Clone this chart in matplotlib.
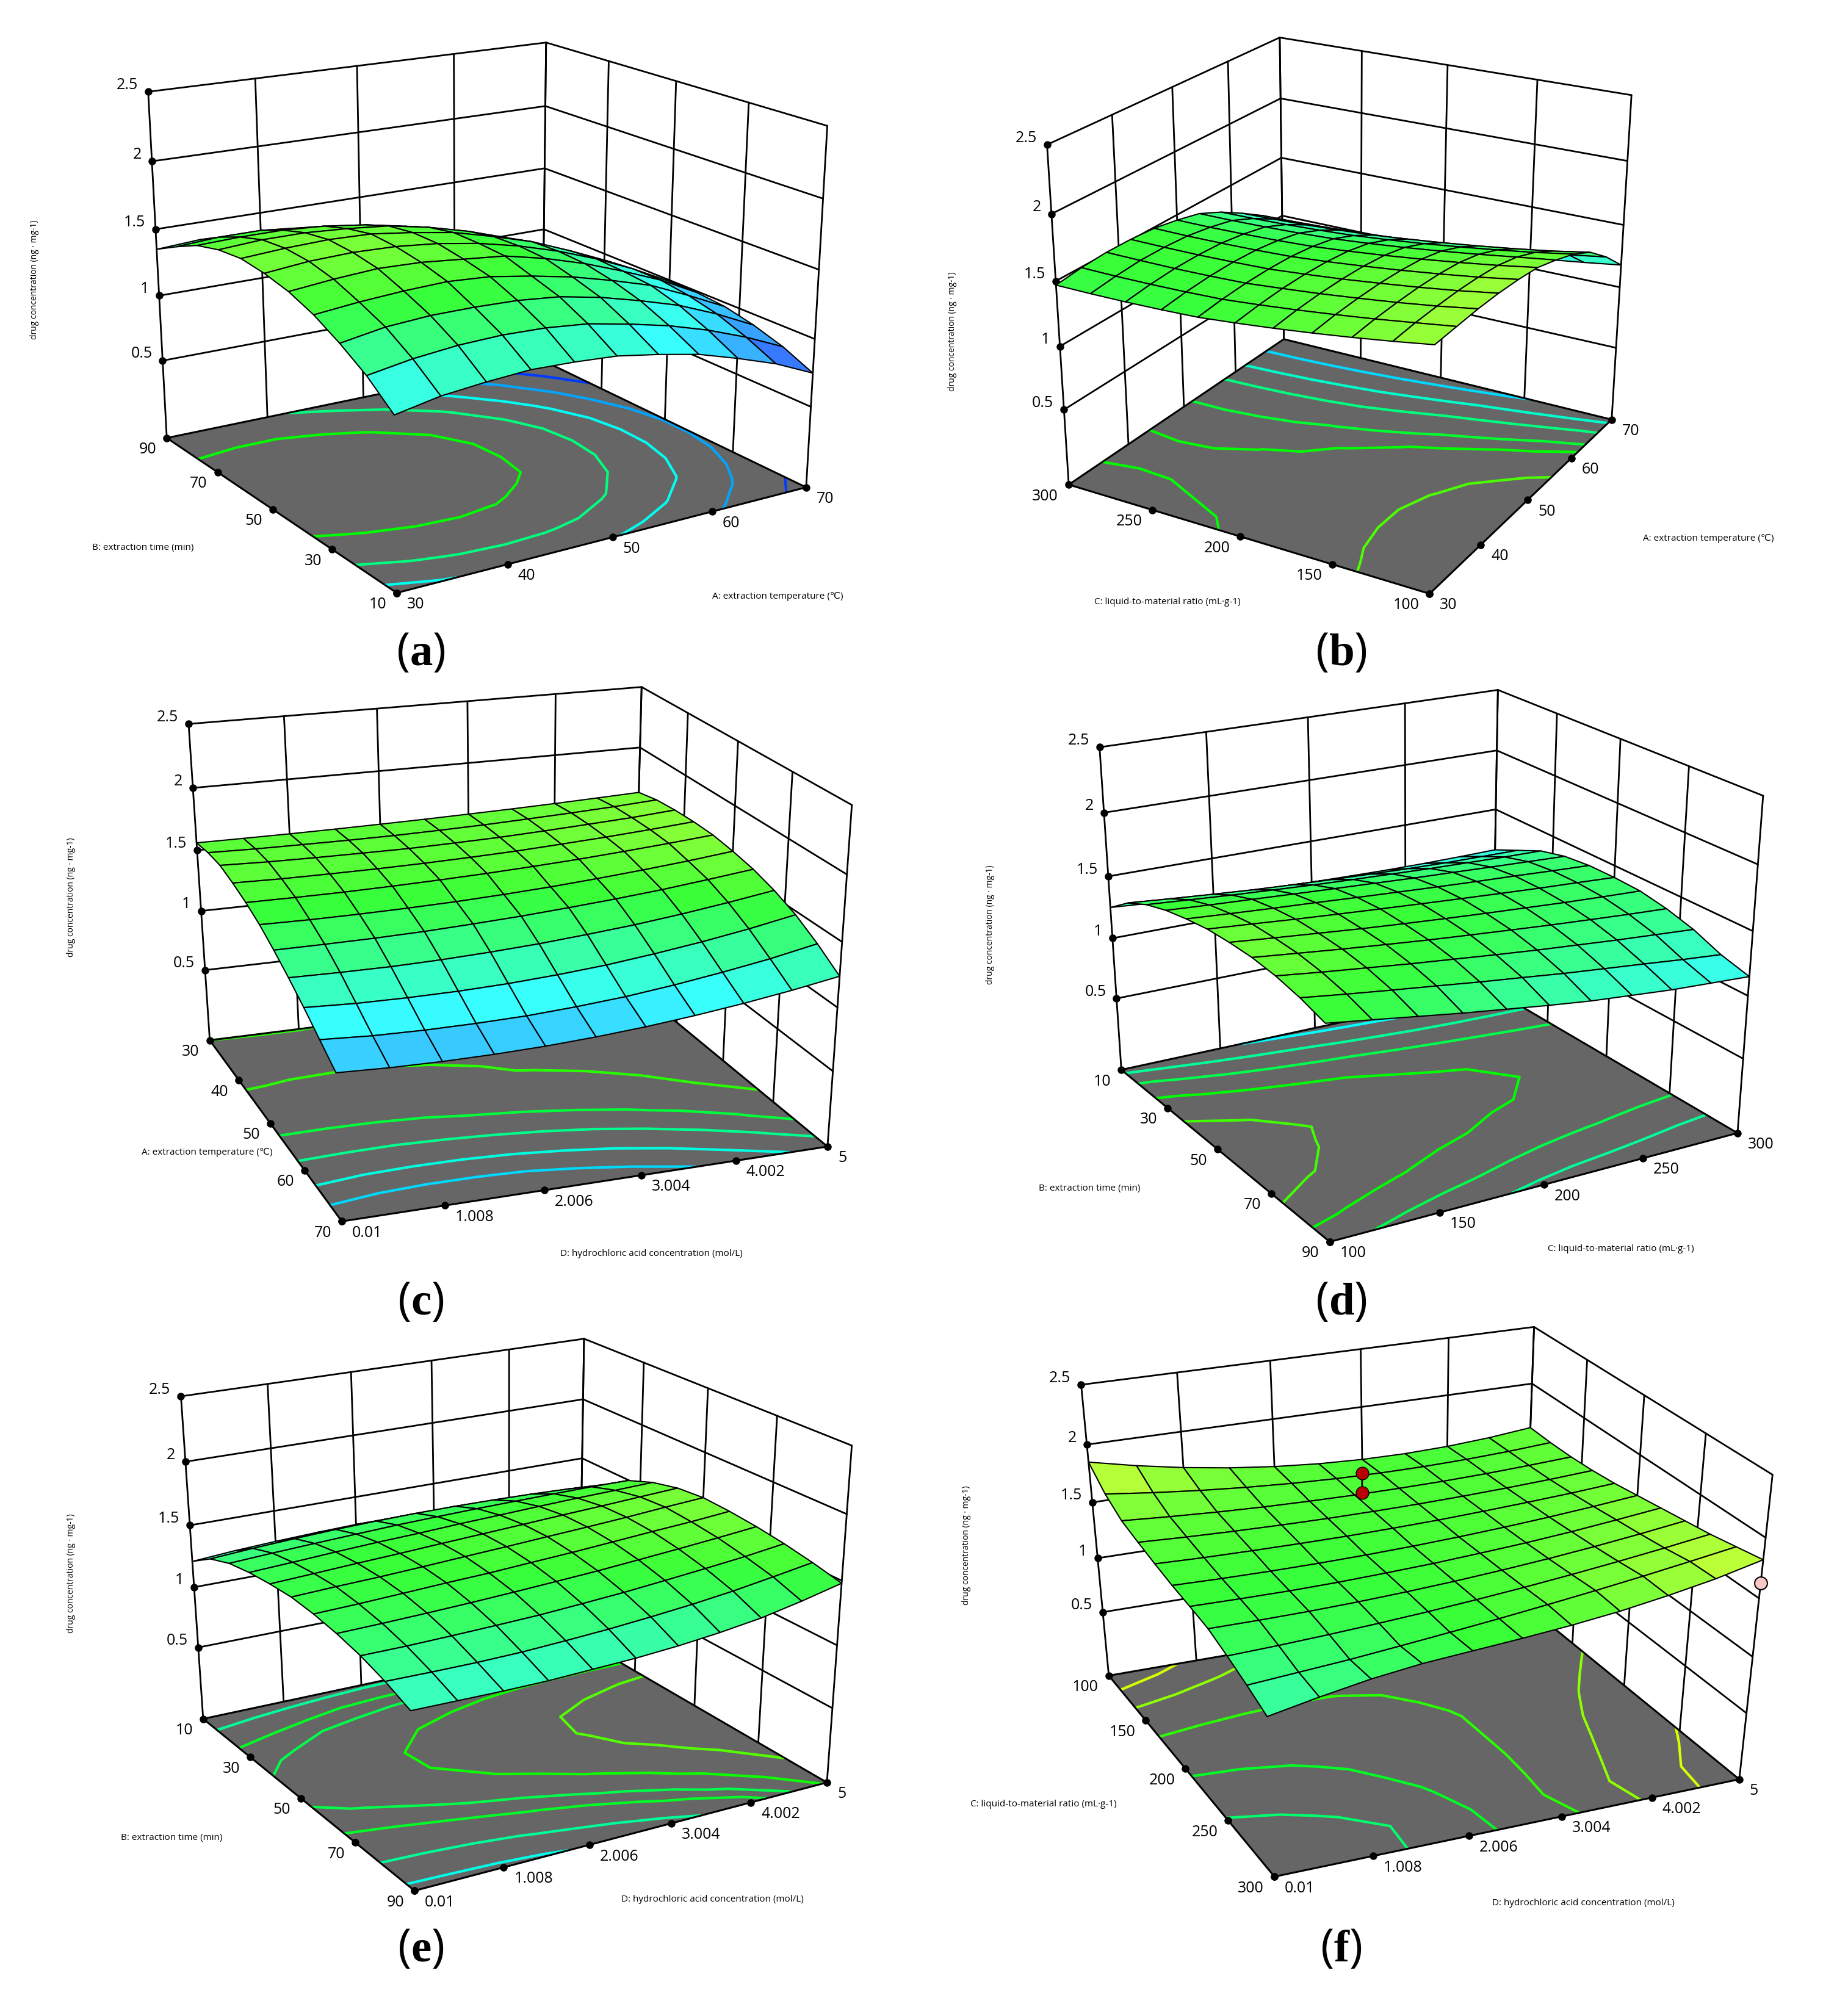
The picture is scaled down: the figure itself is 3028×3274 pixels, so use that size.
import numpy as np
import matplotlib
matplotlib.use('Agg')
import matplotlib.pyplot as plt
from matplotlib.colors import LinearSegmentedColormap, Normalize

plt.rcParams['font.family'] = ['Open Sans', 'DejaVu Sans']
plt.rcParams['mathtext.fontset'] = 'custom'
plt.rcParams['mathtext.rm'] = 'Liberation Serif'
plt.rcParams['mathtext.bf'] = 'Liberation Serif:bold'

W, H = 3028, 3274
FLOOR = -0.11
ZTICKS = [0.5, 1, 1.5, 2, 2.5]
ZLABELS = ['0.5', '1', '1.5', '2', '2.5']

TEMP = [30, 40, 50, 60, 70]
TEMP_R = [70, 60, 50, 40, 30]
TIME = [10, 30, 50, 70, 90]
TIME_R = [90, 70, 50, 30, 10]
RATIO = [100, 150, 200, 250, 300]
RATIO_R = [300, 250, 200, 150, 100]
ACID = [0.01, 1.008, 2.006, 3.004, 4.002, 5]
ACID_LABELS = ['0.01', '1.008', '2.006', '3.004', '4.002', '5']

# surface heights, rows run from the front edge to the far edge
z_a = [
    [1.10, 1.16, 1.19, 1.21, 1.20, 1.18, 1.13, 1.07, 0.98, 0.88, 0.75],
    [1.26, 1.31, 1.34, 1.35, 1.34, 1.31, 1.25, 1.18, 1.09, 0.98, 0.85],
    [1.38, 1.43, 1.45, 1.45, 1.44, 1.41, 1.35, 1.27, 1.18, 1.06, 0.92],
    [1.48, 1.51, 1.53, 1.54, 1.52, 1.47, 1.41, 1.33, 1.24, 1.11, 0.97],
    [1.55, 1.58, 1.60, 1.59, 1.56, 1.53, 1.46, 1.37, 1.26, 1.14, 0.99],
    [1.59, 1.62, 1.63, 1.62, 1.59, 1.54, 1.47, 1.38, 1.27, 1.14, 0.99],
    [1.61, 1.63, 1.64, 1.63, 1.59, 1.54, 1.46, 1.37, 1.25, 1.12, 0.96],
    [1.59, 1.61, 1.61, 1.59, 1.56, 1.50, 1.42, 1.32, 1.20, 1.06, 0.90],
    [1.54, 1.55, 1.55, 1.53, 1.49, 1.43, 1.35, 1.24, 1.12, 0.98, 0.82],
    [1.45, 1.47, 1.47, 1.44, 1.39, 1.33, 1.25, 1.14, 1.02, 0.88, 0.71],
    [1.35, 1.37, 1.35, 1.33, 1.28, 1.21, 1.13, 1.02, 0.89, 0.74, 0.58],
]
z_b = [
    [1.700, 1.710, 1.720, 1.720, 1.710, 1.690, 1.640, 1.580, 1.490, 1.350, 1.180],
    [1.655, 1.669, 1.674, 1.674, 1.664, 1.644, 1.601, 1.532, 1.439, 1.306, 1.139],
    [1.614, 1.629, 1.635, 1.635, 1.625, 1.604, 1.561, 1.491, 1.397, 1.266, 1.102],
    [1.577, 1.594, 1.601, 1.601, 1.590, 1.568, 1.525, 1.454, 1.359, 1.231, 1.069],
    [1.544, 1.562, 1.570, 1.569, 1.559, 1.536, 1.493, 1.420, 1.325, 1.199, 1.040],
    [1.515, 1.534, 1.544, 1.543, 1.532, 1.508, 1.465, 1.391, 1.295, 1.171, 1.015],
    [1.490, 1.510, 1.520, 1.520, 1.510, 1.484, 1.442, 1.366, 1.268, 1.147, 0.994],
    [1.479, 1.500, 1.511, 1.511, 1.499, 1.471, 1.428, 1.350, 1.250, 1.129, 0.977],
    [1.472, 1.494, 1.506, 1.505, 1.493, 1.463, 1.419, 1.338, 1.235, 1.115, 0.964],
    [1.469, 1.492, 1.506, 1.504, 1.490, 1.458, 1.413, 1.330, 1.225, 1.105, 0.955],
    [1.470, 1.495, 1.508, 1.506, 1.492, 1.458, 1.412, 1.326, 1.218, 1.100, 0.950],
]
z_c = [
    [1.010, 0.995, 0.989, 0.991, 1.001, 1.020, 1.047, 1.083, 1.127, 1.179, 1.240],
    [1.114, 1.093, 1.085, 1.086, 1.094, 1.115, 1.144, 1.186, 1.237, 1.295, 1.366],
    [1.218, 1.201, 1.196, 1.198, 1.209, 1.230, 1.259, 1.300, 1.348, 1.405, 1.472],
    [1.312, 1.306, 1.304, 1.311, 1.325, 1.345, 1.373, 1.405, 1.446, 1.494, 1.548],
    [1.396, 1.396, 1.399, 1.407, 1.422, 1.440, 1.464, 1.491, 1.523, 1.562, 1.604],
    [1.470, 1.465, 1.466, 1.471, 1.480, 1.495, 1.514, 1.539, 1.568, 1.601, 1.640],
    [1.524, 1.522, 1.523, 1.529, 1.538, 1.550, 1.566, 1.585, 1.609, 1.636, 1.666],
    [1.563, 1.556, 1.555, 1.556, 1.561, 1.570, 1.582, 1.600, 1.620, 1.644, 1.672],
    [1.592, 1.581, 1.576, 1.574, 1.573, 1.580, 1.589, 1.604, 1.622, 1.641, 1.668],
    [1.586, 1.578, 1.575, 1.573, 1.574, 1.580, 1.588, 1.601, 1.615, 1.632, 1.654],
    [1.560, 1.559, 1.559, 1.561, 1.565, 1.570, 1.577, 1.585, 1.595, 1.607, 1.620],
]
z_d = [
    [1.500, 1.453, 1.406, 1.359, 1.317, 1.275, 1.238, 1.211, 1.184, 1.167, 1.150],
    [1.560, 1.517, 1.477, 1.439, 1.400, 1.365, 1.329, 1.298, 1.268, 1.236, 1.209],
    [1.600, 1.560, 1.524, 1.488, 1.456, 1.424, 1.394, 1.368, 1.342, 1.320, 1.298],
    [1.620, 1.585, 1.551, 1.520, 1.490, 1.464, 1.439, 1.415, 1.394, 1.374, 1.357],
    [1.620, 1.589, 1.560, 1.531, 1.506, 1.483, 1.462, 1.443, 1.424, 1.409, 1.396],
    [1.610, 1.585, 1.559, 1.536, 1.514, 1.493, 1.473, 1.454, 1.436, 1.421, 1.405],
    [1.580, 1.558, 1.538, 1.520, 1.500, 1.482, 1.464, 1.448, 1.434, 1.418, 1.404],
    [1.540, 1.520, 1.503, 1.485, 1.468, 1.452, 1.435, 1.422, 1.408, 1.395, 1.383],
    [1.480, 1.457, 1.434, 1.415, 1.396, 1.381, 1.368, 1.355, 1.346, 1.337, 1.332],
    [1.390, 1.363, 1.338, 1.315, 1.297, 1.281, 1.268, 1.256, 1.247, 1.244, 1.241],
    [1.250, 1.226, 1.204, 1.186, 1.172, 1.160, 1.152, 1.146, 1.144, 1.146, 1.150],
]
z_e = [
    [1.230, 1.227, 1.224, 1.226, 1.238, 1.250, 1.272, 1.304, 1.346, 1.408, 1.480],
    [1.315, 1.311, 1.310, 1.316, 1.331, 1.349, 1.374, 1.403, 1.439, 1.484, 1.532],
    [1.380, 1.381, 1.388, 1.397, 1.408, 1.427, 1.448, 1.475, 1.504, 1.535, 1.574],
    [1.425, 1.432, 1.442, 1.454, 1.469, 1.486, 1.504, 1.527, 1.551, 1.577, 1.606],
    [1.455, 1.465, 1.479, 1.494, 1.506, 1.524, 1.541, 1.562, 1.584, 1.603, 1.628],
    [1.470, 1.484, 1.495, 1.510, 1.527, 1.543, 1.561, 1.578, 1.597, 1.620, 1.640],
    [1.460, 1.476, 1.493, 1.508, 1.525, 1.541, 1.557, 1.574, 1.589, 1.606, 1.622],
    [1.440, 1.457, 1.476, 1.492, 1.504, 1.520, 1.532, 1.545, 1.556, 1.564, 1.574],
    [1.405, 1.424, 1.440, 1.455, 1.469, 1.478, 1.486, 1.491, 1.495, 1.498, 1.496],
    [1.335, 1.358, 1.376, 1.391, 1.401, 1.407, 1.408, 1.404, 1.397, 1.385, 1.368],
    [1.210, 1.235, 1.252, 1.265, 1.274, 1.275, 1.272, 1.261, 1.246, 1.227, 1.200],
]
z_f = [
    [1.260, 1.340, 1.410, 1.460, 1.490, 1.520, 1.555, 1.600, 1.660, 1.730, 1.820],
    [1.340, 1.370, 1.400, 1.438, 1.478, 1.520, 1.566, 1.614, 1.666, 1.722, 1.780],
    [1.410, 1.423, 1.441, 1.463, 1.489, 1.520, 1.555, 1.595, 1.639, 1.687, 1.740],
    [1.470, 1.469, 1.473, 1.483, 1.499, 1.520, 1.547, 1.579, 1.617, 1.661, 1.710],
    [1.495, 1.490, 1.488, 1.493, 1.505, 1.520, 1.542, 1.567, 1.599, 1.638, 1.680],
    [1.515, 1.506, 1.502, 1.503, 1.509, 1.520, 1.536, 1.557, 1.583, 1.614, 1.650],
    [1.545, 1.533, 1.527, 1.524, 1.524, 1.530, 1.539, 1.554, 1.572, 1.593, 1.620],
    [1.580, 1.562, 1.549, 1.540, 1.535, 1.535, 1.539, 1.548, 1.561, 1.578, 1.600],
    [1.620, 1.594, 1.572, 1.556, 1.546, 1.540, 1.540, 1.544, 1.554, 1.570, 1.590],
    [1.710, 1.662, 1.622, 1.590, 1.566, 1.550, 1.542, 1.542, 1.550, 1.566, 1.590],
    [1.850, 1.762, 1.688, 1.628, 1.582, 1.550, 1.532, 1.528, 1.538, 1.562, 1.600],
]

floor_d = [
    [1.300, 1.270, 1.240, 1.210, 1.185, 1.160, 1.140, 1.130, 1.120, 1.120, 1.120],
    [1.370, 1.342, 1.318, 1.294, 1.270, 1.250, 1.230, 1.214, 1.198, 1.182, 1.170],
    [1.420, 1.394, 1.370, 1.348, 1.328, 1.310, 1.294, 1.280, 1.268, 1.258, 1.250],
    [1.450, 1.426, 1.404, 1.384, 1.366, 1.350, 1.336, 1.324, 1.314, 1.306, 1.300],
    [1.460, 1.438, 1.418, 1.400, 1.384, 1.370, 1.358, 1.348, 1.340, 1.334, 1.330],
    [1.460, 1.442, 1.424, 1.408, 1.394, 1.380, 1.368, 1.356, 1.346, 1.338, 1.330],
    [1.440, 1.424, 1.410, 1.396, 1.382, 1.370, 1.358, 1.348, 1.338, 1.328, 1.320],
    [1.410, 1.394, 1.380, 1.366, 1.352, 1.340, 1.328, 1.318, 1.308, 1.298, 1.290],
    [1.360, 1.338, 1.318, 1.300, 1.284, 1.270, 1.258, 1.248, 1.240, 1.234, 1.230],
    [1.280, 1.253, 1.227, 1.205, 1.187, 1.170, 1.157, 1.145, 1.137, 1.133, 1.130],
    [1.150, 1.124, 1.100, 1.080, 1.064, 1.050, 1.040, 1.032, 1.028, 1.028, 1.030],
]
floor_e = [
    [1.100, 1.105, 1.110, 1.120, 1.140, 1.160, 1.190, 1.230, 1.280, 1.350, 1.430],
    [1.190, 1.193, 1.199, 1.213, 1.235, 1.260, 1.293, 1.329, 1.373, 1.425, 1.480],
    [1.260, 1.267, 1.281, 1.297, 1.315, 1.340, 1.367, 1.401, 1.437, 1.475, 1.520],
    [1.310, 1.323, 1.339, 1.357, 1.377, 1.400, 1.425, 1.453, 1.483, 1.515, 1.550],
    [1.345, 1.360, 1.380, 1.399, 1.417, 1.440, 1.462, 1.489, 1.515, 1.540, 1.570],
    [1.365, 1.383, 1.399, 1.418, 1.440, 1.460, 1.483, 1.504, 1.528, 1.555, 1.580],
    [1.360, 1.380, 1.400, 1.420, 1.440, 1.460, 1.480, 1.500, 1.520, 1.540, 1.560],
    [1.345, 1.365, 1.387, 1.406, 1.422, 1.440, 1.455, 1.472, 1.486, 1.497, 1.510],
    [1.315, 1.337, 1.355, 1.372, 1.388, 1.400, 1.411, 1.418, 1.424, 1.429, 1.430],
    [1.250, 1.275, 1.295, 1.311, 1.323, 1.330, 1.333, 1.331, 1.325, 1.315, 1.300],
    [1.130, 1.156, 1.174, 1.188, 1.198, 1.200, 1.198, 1.188, 1.174, 1.156, 1.130],
]
floor_f = [
    [1.060, 1.160, 1.250, 1.320, 1.370, 1.420, 1.475, 1.540, 1.620, 1.710, 1.820],
    [1.160, 1.208, 1.258, 1.312, 1.370, 1.430, 1.494, 1.560, 1.630, 1.704, 1.780],
    [1.250, 1.279, 1.313, 1.351, 1.393, 1.440, 1.491, 1.547, 1.607, 1.671, 1.740],
    [1.330, 1.343, 1.361, 1.385, 1.415, 1.450, 1.491, 1.537, 1.589, 1.647, 1.710],
    [1.375, 1.382, 1.392, 1.409, 1.433, 1.460, 1.494, 1.531, 1.575, 1.626, 1.680],
    [1.415, 1.416, 1.422, 1.433, 1.449, 1.470, 1.496, 1.527, 1.563, 1.604, 1.650],
    [1.465, 1.461, 1.463, 1.468, 1.476, 1.490, 1.507, 1.530, 1.556, 1.585, 1.620],
    [1.520, 1.508, 1.501, 1.498, 1.499, 1.505, 1.515, 1.530, 1.549, 1.572, 1.600],
    [1.580, 1.558, 1.540, 1.528, 1.522, 1.520, 1.524, 1.532, 1.546, 1.566, 1.590],
    [1.690, 1.644, 1.606, 1.576, 1.554, 1.540, 1.534, 1.536, 1.546, 1.564, 1.590],
    [1.850, 1.762, 1.688, 1.628, 1.582, 1.550, 1.532, 1.528, 1.538, 1.562, 1.600],
]

levels_a = [0.82, 1.00, 1.17, 1.33, 1.50]
levels_b = [1.09, 1.22, 1.33, 1.44, 1.50, 1.62]
levels_c = [1.09, 1.19, 1.31, 1.42, 1.56]
levels_d = [1.08, 1.18, 1.27, 1.35, 1.42]
levels_e = [1.13, 1.22, 1.31, 1.355, 1.42, 1.50]
levels_f = [1.30, 1.40, 1.50, 1.60, 1.72]

# colour value of each contour where it differs from its level
tint_d = [1.15, 1.29, 1.40, 1.50, 1.60]
tint_e = [1.18, 1.29, 1.45, 1.40, 1.52, 1.63]
tint_f = [1.35, 1.45, 1.56, 1.72, 1.84]

# design points of panel f: D, C, response
red_d = [2.63, 2.63]
red_c = [136, 136]
red_z = [1.69, 1.52]
pink_d = [5]
pink_c = [300]
pink_z = [1.63]

panels = [
    dict(tag='a', x=TEMP, xl=None, y=TIME, yl=None, z=z_a, fl=z_a, lev=levels_a, tint=levels_a,
         xlabel='A: extraction temperature (℃)', ylabel='B: extraction time (min)',
         origin=(40, 40), front=(684, 1460), right=(1432, 1200), left=(264, 1072),
         lt=[(255, 860), (247, 690), (239, 521), (232, 351), (226, 181)],
         bk=[None, (953, 525), (955, 367), (957, 210), (957, 50)],
         rt=[(1442, 980), (1450, 800), (1458, 625), (1467, 447), (1476, 267)],
         xl_pos=(1274, 977), yl_pos=(234, 898), zl_pos=(56, 458), tag_pos=(689, 1071)),
    dict(tag='b', x=TEMP, xl=None, y=RATIO, yl=None, z=z_b, fl=z_b, lev=levels_b, tint=levels_b,
         xlabel='A: extraction temperature (℃)', ylabel='C: liquid-to-material ratio (mL·g-1)',
         origin=(1540, 40), front=(898, 1462), right=(1230, 1022), left=(240, 1193),
         lt=[(229, 988), (220, 820), (212, 653), (203, 485), (195, 317)],
         bk=[None, None, (627, 338), (625, 188), (623, 40)],
         rt=[(1240, 830), (1248, 670), (1255, 510), (1263, 350), (1272, 188)],
         xl_pos=(2799, 882), yl_pos=(1913, 987), zl_pos=(1560, 543), tag_pos=(2197, 1071)),
    dict(tag='c', x=ACID, xl=ACID_LABELS, y=TEMP_R, yl=None, z=z_c, fl=z_c, lev=levels_c, tint=levels_c,
         xlabel='D: hydrochloric acid concentration (mol/L)', ylabel='A: extraction temperature (℃)',
         origin=(80, 1110), front=(538, 1398), right=(1422, 1215), left=(298, 940),
         lt=[(288, 750), (279, 594), (271, 437), (263, 283), (255, 128)],
         bk=[None, None, None, (1085, 177), (1088, 28)],
         rt=[(1441, 1010), (1450, 840), (1457, 672), (1465, 505), (1474, 337)],
         xl_pos=(1067, 2055), yl_pos=(339, 1888), zl_pos=(116, 1470), tag_pos=(689, 2134)),
    dict(tag='d', x=RATIO, xl=None, y=TIME_R, yl=None, z=z_d, fl=floor_d, lev=levels_d, tint=tint_d,
         xlabel='C: liquid-to-material ratio (mL·g-1)', ylabel='B: extraction time (min)',
         origin=(1580, 1110), front=(672, 1450), right=(1416, 1182), left=(291, 1016),
         lt=[(280, 822), (272, 664), (263, 505), (255, 347), (246, 188)],
         bk=[None, None, (975, 335), (978, 187), (980, 37)],
         rt=[(1428, 978), (1438, 810), (1447, 645), (1458, 478), (1468, 312)],
         xl_pos=(2656, 2047), yl_pos=(1785, 1948), zl_pos=(1623, 1515), tag_pos=(2197, 2134)),
    dict(tag='e', x=ACID, xl=ACID_LABELS, y=TIME_R, yl=None, z=z_e, fl=floor_e, lev=levels_e, tint=tint_e,
         xlabel='D: hydrochloric acid concentration (mol/L)', ylabel='B: extraction time (min)',
         origin=(80, 2170), front=(672, 1455), right=(1424, 1187), left=(286, 1024),
         lt=[(275, 826), (266, 668), (258, 510), (250, 353), (240, 194)],
         bk=[None, None, (979, 340), (981, 192), (982, 42)],
         rt=[(1437, 985), (1447, 818), (1456, 652), (1466, 487), (1475, 318)],
         xl_pos=(1167, 3112), yl_pos=(281, 3011), zl_pos=(116, 2578), tag_pos=(689, 3195)),
    dict(tag='f', x=ACID, xl=ACID_LABELS, y=RATIO_R, yl=None, z=z_f, fl=floor_f, lev=levels_f, tint=tint_f,
         xlabel='D: hydrochloric acid concentration (mol/L)', ylabel='C: liquid-to-material ratio (mL·g-1)',
         origin=(1540, 2170), front=(615, 1420), right=(1462, 1180), left=(313, 910),
         lt=[(300, 737), (289, 594), (278, 451), (268, 308), (258, 165)],
         bk=[None, None, None, (1086, 148), (1092, 12)],
         rt=[(1480, 1000), (1493, 845), (1505, 693), (1517, 545), (1528, 398)],
         xl_pos=(2594, 3118), yl_pos=(1710, 2956), zl_pos=(1583, 2532), tag_pos=(2197, 3195)),
]

cmap = LinearSegmentedColormap.from_list('de', [(0.0, '#0000ff'), (0.272, '#00ffff'),
                                                (0.494, '#00ff00'), (0.747, '#ffff00'), (1.0, '#ff0000')])
norm = Normalize(0.72, 2.3)
LIGHT = 0.22


def fit_camera(world, pix):
    # plain DLT on normalised coordinates
    rows = []
    for (a, b, c), (u, v) in zip(world, pix):
        rows.append([a, b, c, 1, 0, 0, 0, 0, -u*a, -u*b, -u*c, -u])
        rows.append([0, 0, 0, 0, a, b, c, 1, -v*a, -v*b, -v*c, -v])
    p = np.linalg.svd(np.array(rows))[2][-1].reshape(3, 4)
    if p[2] @ np.array([0.5, 0.5, 0.5, 1]) < 0:
        p = -p
    p = p / (p[2] @ np.array([0.5, 0.5, 0.5, 1]))
    return np.array([p[0], p[1], [0, 0, 0, -1], p[2]])


fig = plt.figure(figsize=(W/100, H/100), dpi=100)
side = H / W

for pn in panels:
    ax = fig.add_axes([(1 - side)/2, 0, side, 1], projection='3d', computed_zorder=False)
    ax.set_axis_off()
    ax.patch.set_visible(False)
    ax.apply_aspect()
    to2d = ax.transData.inverted()

    xt, yt = pn['x'], pn['y']
    x0, x1, y0, y1 = xt[0], xt[-1], yt[0], yt[-1]

    def pixel(pt):
        px = pn['origin'][0] + pt[0]/1.12
        py = pn['origin'][1] + pt[1]/1.568
        return to2d.transform((px, H - py))

    world, pix = [], []
    zn = lambda v: (v - FLOOR) / (2.5 - FLOOR)
    for name, (a, b) in [('front', (0, 0)), ('right', (1, 0)), ('left', (0, 1))]:
        world.append((a, b, 0)); pix.append(pixel(pn[name]))
    for name, (a, b) in [('lt', (0, 1)), ('bk', (1, 1)), ('rt', (1, 0))]:
        for zv, pt in zip(ZTICKS, pn[name]):
            if pt is not None:
                world.append((a, b, zn(zv))); pix.append(pixel(pt))
    cam = fit_camera(world, pix)
    scale = np.array([[1/(x1-x0), 0, 0, -x0/(x1-x0)],
                      [0, 1/(y1-y0), 0, -y0/(y1-y0)],
                      [0, 0, 1/(2.5-FLOOR), -FLOOR/(2.5-FLOOR)],
                      [0, 0, 0, 1]])
    M = cam @ scale
    ax.get_proj = lambda M=M: M

    # walls
    wall = dict(color='k', lw=2.0, zorder=1, solid_capstyle='round')
    for zv in ZTICKS:
        ax.plot([x0, x1], [y1, y1], [zv, zv], **wall)
        ax.plot([x1, x1], [y1, y0], [zv, zv], **wall)
    for xv in xt:
        ax.plot([xv, xv], [y1, y1], [FLOOR, 2.5], **wall)
    for yv in yt:
        ax.plot([x1, x1], [yv, yv], [FLOOR, 2.5], **wall)

    # floor and contours
    X, Y = np.meshgrid(np.linspace(x0, x1, 11), np.linspace(y0, y1, 11))
    Z = np.array(pn['z'])
    fx, fy = np.meshgrid([x0, x1], [y0, y1])
    ax.plot_surface(fx, fy, np.full((2, 2), FLOOR), color='#666666', shade=False, linewidth=0, zorder=2)
    ax.contour(X, Y, np.array(pn['fl']), levels=pn['lev'], colors=[cmap(norm(v)) for v in pn['tint']],
               zdir='z', offset=FLOOR, linewidths=3.0, zorder=3)
    ax.plot([x0, x1, x1, x0, x0], [y0, y0, y1, y1, y0], [FLOOR]*5, color='k', lw=2.2, zorder=4)

    # tick dots
    ax.plot(xt, [y0]*len(xt), [FLOOR]*len(xt), 'o', color='k', ms=8, zorder=4)
    ax.plot([x0]*len(yt), yt, [FLOOR]*len(yt), 'o', color='k', ms=8, zorder=4)
    ax.plot([x0]*len(ZTICKS), [y1]*len(ZTICKS), ZTICKS, 'o', color='k', ms=8, zorder=4)

    # response surface
    cell = (Z[:-1, :-1] + Z[1:, :-1] + Z[:-1, 1:] + Z[1:, 1:]) / 4
    face = cmap(norm(cell))
    face[..., :3] = face[..., :3]*(1 - LIGHT) + LIGHT
    ax.plot_surface(X, Y, Z, facecolors=face, rstride=1, cstride=1, shade=False,
                    edgecolor='k', linewidth=1.5, zorder=5)

    if pn['tag'] == 'f':
        ax.plot(red_d, red_c, red_z, color='k', lw=2, zorder=6)
        ax.plot(red_d, red_c, red_z, 'o', color='#b80000', mec='k', ms=15, zorder=7)
        ax.plot(pink_d, pink_c, pink_z, 'o', color='#f8c8c8', mec='k', ms=15, mew=1.5, zorder=7)

    # tick labels
    def at(a, b, c):
        v = M @ np.array([a, b, c, 1.0])
        return v[0]/v[3], v[1]/v[3]

    tick = dict(textcoords='offset pixels', fontsize=18, va='center', zorder=8)
    xl = pn['xl'] or [str(v) for v in xt]
    yl = pn['yl'] or [str(v) for v in yt]
    for v, s in zip(xt, xl):
        ax.annotate(s, at(v, y0, FLOOR), xytext=(17, -19), ha='left', **tick)
    for v, s in zip(yt, yl):
        ax.annotate(s, at(x0, v, FLOOR), xytext=(-17, -19), ha='right', **tick)
    for v, s in zip(ZTICKS, ZLABELS):
        ax.annotate(s, at(x0, y1, v), xytext=(-17, 11), ha='right', **tick)

    # axis titles
    fig.text(pn['xl_pos'][0]/W, 1 - pn['xl_pos'][1]/H, pn['xlabel'], fontsize=11, ha='center', va='center')
    fig.text(pn['yl_pos'][0]/W, 1 - pn['yl_pos'][1]/H, pn['ylabel'], fontsize=11, ha='center', va='center')
    fig.text(pn['zl_pos'][0]/W, 1 - pn['zl_pos'][1]/H, 'drug concentration (ng · mg-1)', fontsize=10,
             rotation=90, ha='center', va='center')
    fig.text(pn['tag_pos'][0]/W, 1 - pn['tag_pos'][1]/H, r'($\mathbf{%s}$)' % pn['tag'], fontsize=54,
             ha='center', va='center')

fig.savefig('out.png', dpi=100)
